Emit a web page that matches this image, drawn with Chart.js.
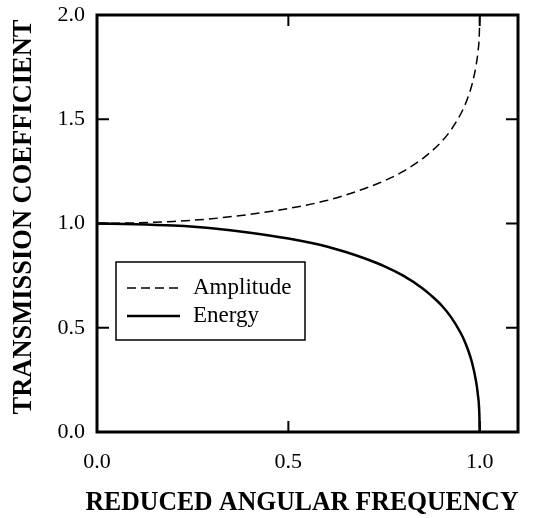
<!DOCTYPE html>
<html>
<head>
<meta charset="utf-8">
<script src="https://cdn.jsdelivr.net/npm/chart.js@4/dist/chart.umd.min.js"></script>
<style>
  html, body { margin: 0; padding: 0; background: #fff; }
  #wrap { width: 544px; height: 518px; }
</style>
</head>
<body>
<div id="wrap"><canvas id="chart" width="544" height="518"></canvas></div>
<script>
const frequency = [0, 0.1, 0.2, 0.3, 0.4, 0.5, 0.6, 0.65, 0.7, 0.75, 0.8, 0.85, 0.875, 0.9, 0.925, 0.95, 0.96, 0.97, 0.98, 0.99, 0.995, 0.999, 1.0];
const amplitude = [1.0, 1.003, 1.01, 1.023, 1.044, 1.072, 1.11, 1.137, 1.168, 1.204, 1.25, 1.31, 1.348, 1.392, 1.449, 1.524, 1.562, 1.609, 1.668, 1.753, 1.818, 1.914, 2.0];
const energy = [1.0, 0.997, 0.99, 0.977, 0.956, 0.928, 0.89, 0.863, 0.832, 0.796, 0.75, 0.69, 0.652, 0.608, 0.551, 0.476, 0.438, 0.391, 0.332, 0.247, 0.182, 0.086, 0.0];
const xTicks = [0, 0.5, 1.0];
const yTicks = [0, 0.5, 1.0, 1.5, 2.0];
const xTitle = 'REDUCED ANGULAR FREQUENCY';
const yTitle = 'TRANSMISSION COEFFICIENT';

const toPoints = (ys) => frequency.map((x, i) => ({ x, y: ys[i] }));
const serif = '"Liberation Serif", "Times New Roman", serif';

// inward ticks on all four sides + heavy frame
const frameTicks = {
  id: 'frameTicks',
  afterDraw(chart) {
    const { ctx, chartArea: a, scales } = chart;
    ctx.save();
    ctx.strokeStyle = '#000';
    ctx.lineWidth = 2;
    ctx.beginPath();
    xTicks.forEach((v) => {
      const px = scales.x.getPixelForValue(v);
      ctx.moveTo(px, a.bottom); ctx.lineTo(px, a.bottom - 11);
      ctx.moveTo(px, a.top); ctx.lineTo(px, a.top + 11);
    });
    yTicks.forEach((v) => {
      const py = scales.y.getPixelForValue(v);
      ctx.moveTo(a.left, py); ctx.lineTo(a.left + 12, py);
      ctx.moveTo(a.right, py); ctx.lineTo(a.right - 12, py);
    });
    ctx.stroke();
    ctx.lineWidth = 3;
    ctx.strokeRect(a.left, a.top, a.right - a.left, a.bottom - a.top);
    ctx.restore();
  }
};

// axis titles (the built-in ones get squeezed to the axis length)
const axisTitles = {
  id: 'axisTitles',
  afterDraw(chart) {
    const { ctx, chartArea: a } = chart;
    ctx.save();
    ctx.fillStyle = '#000';
    ctx.font = `bold 27px ${serif}`;
    ctx.textAlign = 'center';
    ctx.textBaseline = 'alphabetic';
    ctx.fillText(xTitle, a.left + 205, a.bottom + 78, 433);
    ctx.translate(31, a.top + 202);
    ctx.rotate(-Math.PI / 2);
    ctx.fillText(yTitle, 0, 0, 395);
    ctx.restore();
  }
};

// boxed legend inside the plot
const boxLegend = {
  id: 'boxLegend',
  afterDraw(chart) {
    const { ctx, chartArea: a } = chart;
    const left = a.left + 19, top = a.top + 247, w = 189, h = 78;
    ctx.save();
    ctx.fillStyle = '#fff';
    ctx.fillRect(left, top, w, h);
    ctx.strokeStyle = '#000';
    ctx.lineWidth = 1.5;
    ctx.strokeRect(left, top, w, h);
    ctx.font = `23px ${serif}`;
    ctx.textBaseline = 'middle';
    chart.data.datasets.forEach((ds, i) => {
      const y = top + 26 + i * 28;
      ctx.strokeStyle = ds.borderColor;
      ctx.lineWidth = ds.borderWidth;
      ctx.setLineDash(ds.borderDash || []);
      ctx.beginPath();
      ctx.moveTo(left + 11, y);
      ctx.lineTo(left + 64, y);
      ctx.stroke();
      ctx.setLineDash([]);
      ctx.fillStyle = '#000';
      ctx.fillText(ds.label, left + 77, y);
    });
    ctx.restore();
  }
};

new Chart(document.getElementById('chart'), {
  type: 'scatter',
  data: {
    datasets: [
      {
        label: 'Amplitude',
        data: toPoints(amplitude),
        showLine: true,
        borderColor: '#000',
        borderWidth: 1.5,
        borderDash: [9, 5],
        pointRadius: 0,
        cubicInterpolationMode: 'monotone'
      },
      {
        label: 'Energy',
        data: toPoints(energy),
        showLine: true,
        borderColor: '#000',
        borderWidth: 2.5,
        pointRadius: 0,
        cubicInterpolationMode: 'monotone'
      }
    ]
  },
  options: {
    responsive: false,
    animation: false,
    layout: { padding: { top: 15, right: 26, left: 0, bottom: 0 } },
    plugins: {
      legend: { display: false },
      tooltip: { enabled: false }
    },
    scales: {
      x: {
        type: 'linear',
        min: 0,
        max: 1.1,
        afterBuildTicks: (scale) => { scale.ticks = xTicks.map((v) => ({ value: v })); },
        afterFit: (scale) => {
          scale.height = 86;
          scale.paddingLeft = 0;
          scale.paddingRight = 0;
        },
        ticks: {
          color: '#000',
          font: { family: serif, size: 22 },
          padding: 17,
          maxRotation: 0,
          callback: (v) => v.toFixed(1)
        },
        grid: { display: false, drawTicks: false },
        border: { display: false }
      },
      y: {
        type: 'linear',
        min: 0,
        max: 2.0,
        afterBuildTicks: (scale) => { scale.ticks = yTicks.map((v) => ({ value: v })); },
        afterFit: (scale) => {
          scale.width = 97;
          scale.paddingTop = 0;
          scale.paddingBottom = 0;
        },
        ticks: {
          color: '#000',
          font: { family: serif, size: 22 },
          padding: 12,
          callback: (v) => v.toFixed(1)
        },
        grid: { display: false, drawTicks: false },
        border: { display: false }
      }
    }
  },
  plugins: [frameTicks, axisTitles, boxLegend]
});
</script>
</body>
</html>
